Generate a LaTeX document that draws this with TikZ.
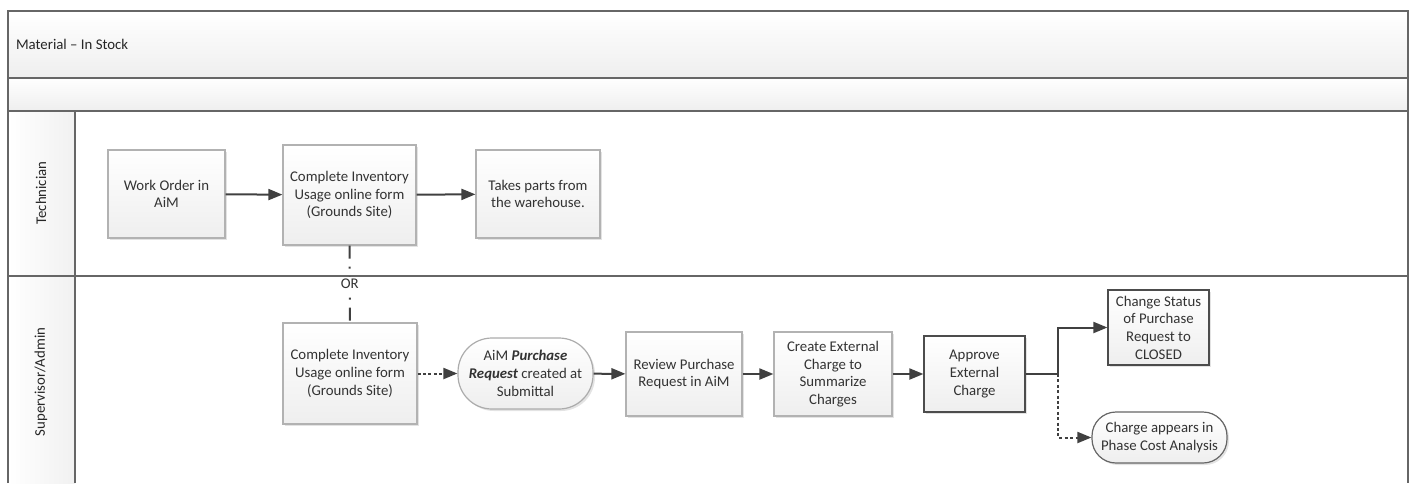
\documentclass[tikz,border=0pt]{standalone}
\usepackage{fontspec}
\setmainfont{Carlito}
\usetikzlibrary{arrows.meta,shadows}
\tikzset{
    lane/.style={draw=black!60, line width=1pt},
    stepbox/.style={draw=gray!60, line width=0.6pt, top color=white, bottom color=gray!13,
        text=black!80, align=center, inner sep=1pt,
        drop shadow={shadow xshift=1pt, shadow yshift=-1pt, opacity=0.22}},
    keybox/.style={stepbox, draw=black!70},
    endbox/.style={stepbox, draw=black!60, rounded corners=12pt},
    flow/.style={draw=black!75, line width=1pt, -{Triangle[length=7pt,width=5.5pt]}},
    dotflow/.style={flow, dash pattern=on 1.5pt off 1.2pt},
}
\begin{document}
\begin{tikzpicture}[x=0.5pt, y=-0.5pt, font=\fontsize{7.4}{8.85}\selectfont]
    \useasboundingbox (0,0) rectangle (1413,483);
    \shade[top color=white, bottom color=gray!13] (8,11) rectangle (1408,78);
    \shade[top color=white, bottom color=gray!13] (8,78) rectangle (1408,111);
    \shade[left color=white, right color=gray!11] (8,111) rectangle (75,483);
    \draw[lane] (8,483) |- (1408,11) -- (1408,483);
    \draw[lane] (8,78) -- (1408,78);
    \draw[lane] (8,111) -- (1408,111);
    \draw[lane] (8,276) -- (1408,276);
    \draw[lane] (75,111) -- (75,483);
    \node[anchor=west, text=black!85] (title) at (9,44) {Material -- In Stock};
    \node[rotate=90, text=black!85] (tech) at (41,193) {Technician};
    \node[rotate=90, text=black!85] (super) at (41,382) {Supervisor/Admin};

    \node[stepbox, minimum width=58.5pt, minimum height=44pt] (wo) at (166.5,194) {Work Order in\\AiM};
    \node[stepbox, minimum width=66.5pt, minimum height=50pt] (ciuT) at (349.5,195) {Complete Inventory\\Usage online form\\(Grounds Site)};
    \node[stepbox, minimum width=62pt, minimum height=44pt] (takes) at (538,194) {Takes parts from\\the warehouse.};

    \node[stepbox, minimum width=67pt, minimum height=50.5pt] (ciuS) at (350,373.5) {Complete Inventory\\Usage online form\\(Grounds Site)};
    \node[endbox, draw=gray!65, rounded corners=17pt, minimum width=67.5pt, minimum height=35.5pt] (pr) at (525.5,373.5) {AiM \textbf{\textit{Purchase}}\\\textbf{\textit{Request}} created at\\Submittal};
    \node[stepbox, minimum width=58pt, minimum height=42pt] (review) at (684,374) {Review Purchase\\Request in AiM};
    \node[stepbox, minimum width=59pt, minimum height=42pt] (create) at (833,374) {Create External\\Charge to\\Summarize\\Charges};
    \node[keybox, minimum width=50.5pt, minimum height=38pt] (approve) at (974.5,374) {Approve\\External\\Charge};
    \node[keybox, minimum width=50.5pt, minimum height=37.5pt] (status) at (1158.5,327.5) {Change Status\\of Purchase\\Request to\\CLOSED};
    \node[endbox, minimum width=67.5pt, minimum height=25.5pt] (phase) at (1159.5,437.5) {Charge appears in\\Phase Cost Analysis};
    \coordinate (split) at (1058,374);

    \draw[flow] (wo) -- (ciuT);
    \draw[flow] (ciuT) -- (takes);
    \draw[draw=black!75, line width=1pt, dash pattern=on 6.5pt off 4pt on 1pt off 4pt] (ciuT.south) -- (ciuS.north)
        node[midway, fill=white, inner sep=1pt, text=black!80] (or) {OR};
    \draw[dotflow] (ciuS) -- (pr);
    \draw[flow] (pr) -- (review);
    \draw[flow] (review) -- (create);
    \draw[flow] (create) -- (approve);
    \draw[flow] (approve.east) -- (split) |- (status.west);
    \draw[dotflow] (approve.east) -- (split) |- (phase.west);
\end{tikzpicture}
\end{document}
